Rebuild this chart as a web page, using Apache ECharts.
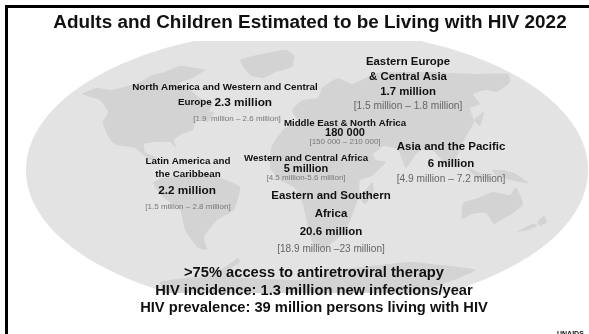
<!DOCTYPE html>
<html><head><meta charset="utf-8">
<style>html,body{margin:0;padding:0;background:#fff}#c{width:589px;height:334px}</style>
<script src="https://cdn.jsdelivr.net/npm/echarts@6/dist/echarts.min.js"></script>
</head><body><div id="c"></div>
<script>
const titleText = "Adults and Children Estimated to be Living with HIV 2022";
const regionNames = ["North America and Western and Central","Latin America and","the Caribbean","Western and Central Africa","Middle East & North Africa","Eastern Europe","& Central Asia","Asia and the Pacific","Eastern and Southern","Africa"];
const estimates = ["2.3 million","2.2 million","5 million","180 000","1.7 million","6 million","20.6 million"];
const ranges = ["[1.9  million – 2.6 million]","[1.5 million – 2.8 million]","[4.5 million-5.6 million]","[150 000 – 210 000]","[1.5 million – 1.8 million]","[4.9 million – 7.2 million]","[18.9 million –23 million]"];
const summaryLines = [">75% access to antiretroviral therapy","HIV incidence: 1.3 million new infections/year","HIV prevalence: 39 million persons living with HIV"];
const sourceText = "UNAIDS";

// decorative world-map backdrop outlines (pixel sketch)
const landOutlines = [
 [[82,94],[97,88],[112,90],[127,86],[140,82],[150,76],[165,72],[180,66],[205,70],[192,78],[178,84],[190,90],[200,98],[213,103],[208,112],[197,118],[193,130],[182,134],[174,140],[176,148],[170,142],[156,142],[144,144],[145,152],[157,158],[150,160],[135,148],[122,146],[113,143],[106,132],[103,122],[108,112],[100,100],[90,97]],
 [[240,60],[262,54],[287,50],[294,56],[292,67],[276,72],[263,78],[250,75]],
 [[153,183],[162,178],[177,177],[198,174],[220,178],[240,187],[234,210],[217,220],[204,237],[207,250],[197,247],[185,230],[180,210],[163,197]],
 [[160,282],[185,278],[212,275],[232,262],[238,258],[240,262],[226,272],[232,277],[270,279],[300,280],[335,270],[362,267],[410,262],[440,265],[476,270],[440,285],[400,294],[165,294]],
 [[272,146],[285,128],[305,122],[328,124],[352,130],[366,142],[376,160],[386,162],[372,176],[360,180],[359,196],[346,230],[322,250],[312,242],[303,205],[295,188],[280,180],[270,168]],
 [[362,196],[372,182],[374,190],[366,204],[362,202]],
 [[292,110],[303,100],[318,98],[322,88],[338,78],[352,84],[377,73],[427,72],[477,74],[508,74],[510,82],[497,92],[486,90],[473,94],[480,104],[470,108],[474,122],[464,140],[456,158],[448,168],[440,158],[430,148],[418,152],[406,168],[398,150],[384,146],[372,154],[358,136],[340,128],[322,124],[300,122]],
 [[474,120],[484,112],[480,126]],
 [[463,165],[478,172],[492,178],[478,178]],
 [[492,170],[503,170],[516,174],[528,183],[510,180],[497,176]],
 [[463,203],[478,198],[493,192],[510,195],[516,187],[523,204],[512,214],[504,218],[494,224],[486,213],[472,214],[462,219]],
 [[517,232],[532,224],[538,225],[528,230]],
 [[537,222],[544,216],[547,222],[540,226]],
 [[202,112],[214,112],[208,122],[198,118]]
];

const BOLD = {fontFamily:"Liberation Sans",fontWeight:"bold",fill:"#111"};
const RANGE = {fontFamily:"Liberation Sans",fill:"#777"};
const RANGE2 = {fontFamily:"Liberation Sans",fill:"#666"};
function txt(text,x,y,size,st,align){
  return {type:"text",x:x,y:y,z:10,style:Object.assign({},st,{text:text,fontSize:size,align:align||"center",verticalAlign:"middle"})};
}
const g = [];
g.push({type:"rect",shape:{x:0,y:0,width:589,height:334},style:{fill:"#fff"},z:0});
const clip = {type:"rect",shape:{x:0,y:41,width:589,height:252}};
g.push({type:"group",z:1,children:[
  {type:"ellipse",shape:{cx:307,cy:170,rx:281,ry:141},style:{fill:"#e3e3e3"},clipPath:clip,z:1}
].concat(landOutlines.map(p=>({type:"polygon",shape:{points:p,smooth:0.15},style:{fill:"#d3d3d3"},clipPath:clip,z:2})))});
g.push({type:"rect",shape:{x:5,y:5,width:584,height:3},style:{fill:"#000"},z:5});
g.push({type:"rect",shape:{x:5,y:5,width:3,height:329},style:{fill:"#000"},z:5});

g.push(txt(titleText,310,22.5,18.9,BOLD));
g.push(txt(regionNames[0],225,87.5,9.8,BOLD));
g.push({type:"text",x:225,y:102.5,z:10,style:{text:"{a|Europe }{b|"+estimates[0]+"}",align:"center",verticalAlign:"middle",rich:{a:Object.assign({fontSize:9.8},BOLD),b:Object.assign({fontSize:11.8},BOLD)}}});
g.push(txt(ranges[0],237,118.5,8,RANGE));
g.push(txt(regionNames[1],188,161.5,9.8,BOLD));
g.push(txt(regionNames[2],188,174.5,9.8,BOLD));
g.push(txt(estimates[1],187,190.5,11.8,BOLD));
g.push(txt(ranges[1],188,206.5,8,RANGE));
g.push(txt(regionNames[3],306,158.5,9.7,BOLD));
g.push(txt(estimates[2],306,168.5,11,BOLD));
g.push(txt(ranges[2],306,177.5,8,RANGE));
g.push(txt(regionNames[4],345,123,9.7,BOLD));
g.push(txt(estimates[3],345,132.5,11,BOLD));
g.push(txt(ranges[3],345,141.5,8,RANGE));
g.push(txt(regionNames[5],408,61.5,11.4,BOLD));
g.push(txt(regionNames[6],408,76.5,11.4,BOLD));
g.push(txt(estimates[4],408,91.5,11.4,BOLD));
g.push(txt(ranges[4],408,106.5,10.2,RANGE2));
g.push(txt(regionNames[7],451,146.5,11.5,BOLD));
g.push(txt(estimates[5],451,163.5,11.5,BOLD));
g.push(txt(ranges[5],451,179.5,10.2,RANGE2));
g.push(txt(regionNames[8],331,195.5,11.5,BOLD));
g.push(txt(regionNames[9],331,213.5,11.5,BOLD));
g.push(txt(estimates[6],331,231.5,11.5,BOLD));
g.push(txt(ranges[6],331,249.5,10.1,RANGE2));
g.push(txt(summaryLines[0],314,272.5,14.7,BOLD));
g.push(txt(summaryLines[1],314,290.5,14.7,BOLD));
g.push(txt(summaryLines[2],314,307.5,14.7,BOLD));
g.push(txt(sourceText,557,334,7,BOLD,"left"));

const chart = echarts.init(document.getElementById("c"),null,{renderer:"canvas"});
chart.setOption({animation:false,backgroundColor:"#fff",graphic:{elements:g}});
</script></body></html>
